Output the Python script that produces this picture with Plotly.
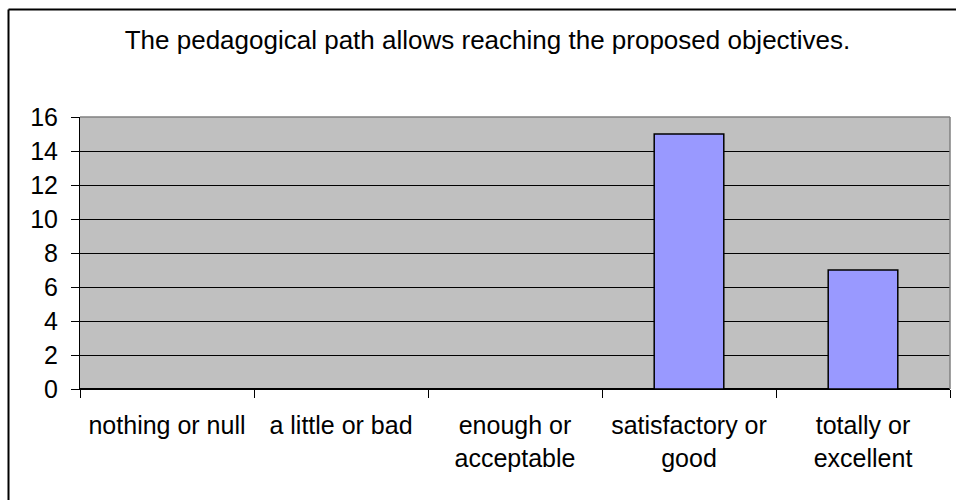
import plotly.graph_objects as go

categories = ["nothing or null", "a little or bad", "enough or<br>acceptable",
              "satisfactory or<br>good", "totally or<br>excellent"]
values = [0, 0, 0, 15, 7]
title_text = "The pedagogical path allows reaching the proposed objectives."
y_ticks = [0, 2, 4, 6, 8, 10, 12, 14, 16]

W, H = 956, 500
L, R, T, B = 80, 950, 117, 389  # plot area (pixels)
pw, ph = R - L, B - T

def px(x):
    return (x - L) / pw

def py(y):
    return (B - y) / ph

fig = go.Figure(go.Bar(
    x=categories, y=values,
    marker=dict(color="#9999FF", line=dict(color="black", width=1.5)),
    width=0.4,
))

fig.update_layout(
    width=W, height=H,
    margin=dict(l=L, r=W - R, t=T, b=H - B, pad=0),
    paper_bgcolor="white",
    plot_bgcolor="#C0C0C0",
    font=dict(family="Liberation Sans, Arial, sans-serif", color="black", size=25),
    showlegend=False,
    title=dict(text=title_text, xref="container", x=487.5 / W, xanchor="center",
               yref="container", y=1 - 39.5 / H, yanchor="middle",
               font=dict(size=26, color="black")),
    xaxis=dict(showgrid=False, showline=True, linecolor="black", linewidth=1,
               ticks="outside", tickson="boundaries", ticklen=8, tickcolor="black",
               ticklabelstandoff=14, tickfont=dict(size=25), tickangle=0),
    yaxis=dict(range=[0, 16], tickvals=y_ticks, showgrid=True, gridcolor="black",
               gridwidth=1, showline=True, linecolor="black", linewidth=1,
               zeroline=True, zerolinecolor="black", zerolinewidth=1.5,
               ticks="outside", ticklen=8, tickcolor="black",
               ticklabelstandoff=8, tickfont=dict(size=25)),
    shapes=[
        # outer frame: top and left edges (the rest lies outside the picture)
        dict(type="line", xref="paper", yref="paper",
             x0=px(8.5), x1=px(W), y0=py(9.5), y1=py(9.5),
             line=dict(color="black", width=2), layer="below"),
        dict(type="line", xref="paper", yref="paper",
             x0=px(8.5), x1=px(8.5), y0=py(9.5), y1=py(H),
             line=dict(color="black", width=2), layer="below"),
        dict(type="line", xref="paper", yref="paper", x0=0, x1=1, y0=1, y1=1,
             line=dict(color="#808080", width=1.5), layer="above"),
        dict(type="line", xref="paper", yref="paper", x0=1, x1=1, y0=0, y1=1,
             line=dict(color="#808080", width=1.5), layer="above"),
    ],
)

fig.write_html(
    "out.html",
    config={"displayModeBar": False},
    post_script="document.body.style.margin='0';document.body.style.overflow='hidden';",
)
